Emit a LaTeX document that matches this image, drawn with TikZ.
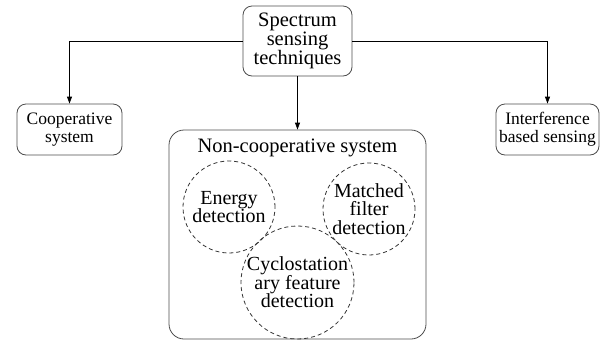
\documentclass[tikz,border=0pt]{standalone}
\usepackage{fontspec}
\setmainfont{Liberation Serif}
\usetikzlibrary{arrows.meta}
\begin{document}
\begin{tikzpicture}[x=1pt,y=-1pt,
  box/.style={draw=black!70, line width=0.8pt, rounded corners=9pt, align=center, inner sep=0pt},
  bigfont/.style={font=\fontsize{20.5}{18.5}\selectfont},
  smallfont/.style={font=\fontsize{17.5}{18}\selectfont},
  det/.style={draw=black!80, line width=0.8pt, dashed, dash pattern=on 4pt off 3pt, circle, inner sep=0pt, align=center, font=\fontsize{20}{18.5}\selectfont},
  conn/.style={line width=0.8pt, -{Triangle[length=7pt,width=5pt]}}]
\useasboundingbox (0,0) rectangle (608,341);
\node[box, bigfont, minimum width=109pt, minimum height=70pt] (top) at (297.5,41) {Spectrum\\sensing\\techniques};
\node[box, smallfont, minimum width=105pt, minimum height=51pt] (coop) at (69.5,129.5) {Cooperative\\system};
\node[box, smallfont, minimum width=103pt, minimum height=51pt] (inter) at (547.5,129.5) {Interference\\based sensing};
\node[box, rounded corners=15pt, minimum width=257pt, minimum height=209pt] (noncoop) at (297.5,234.5) {};
\node[font=\fontsize{20.5}{20}\selectfont, inner sep=0pt] (title) at (297.5,148) {Non-cooperative system};
\node[det, minimum size=92pt] (energy) at (229,207) {Energy\\detection};
\node[det, minimum size=92pt] (matched) at (369,209) {Matched\\filter\\detection};
\node[det, minimum size=109pt] (cyclo) at (297.5,282.5) {Cyclostation\\ary feature\\detection};
\draw[conn] (top) -| (coop);
\draw[conn] (top) -| (inter);
\draw[conn] (top) -- (noncoop);
\end{tikzpicture}
\end{document}
